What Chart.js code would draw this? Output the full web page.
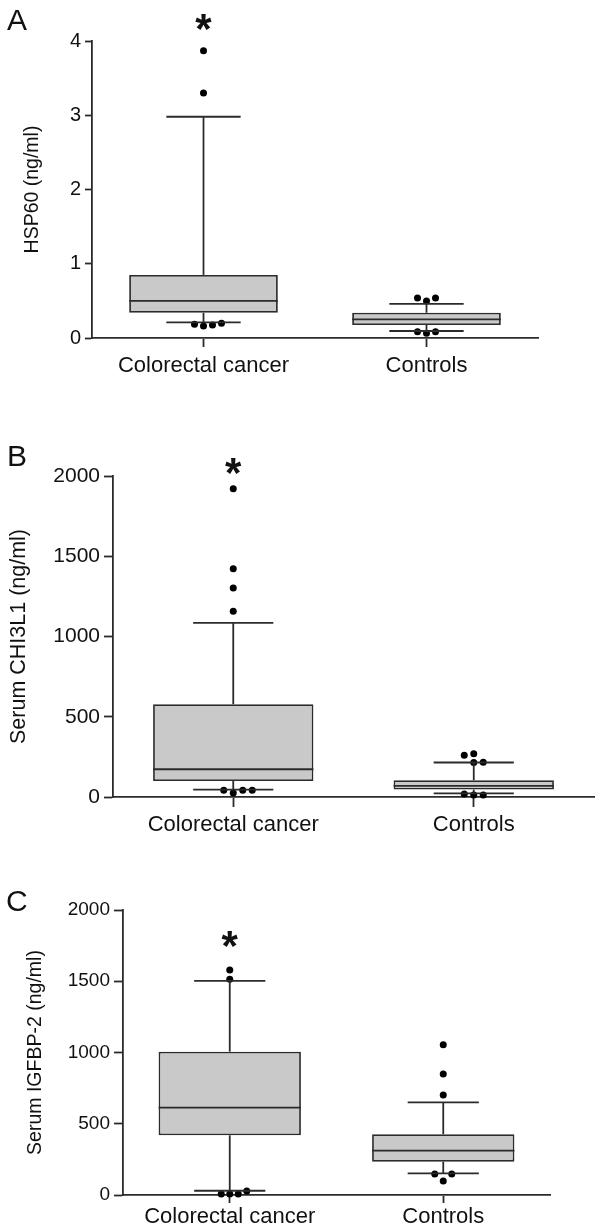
<!DOCTYPE html>
<html>
<head>
<meta charset="utf-8">
<title>HSP60, CHI3L1 and IGFBP-2 in colorectal cancer and controls</title>
<script src="https://cdn.jsdelivr.net/npm/chart.js@4.4.1/dist/chart.umd.min.js"></script>
<style>
  html, body { margin: 0; padding: 0; background: #fff; }
  body { position: relative; width: 602px; height: 1232px; overflow: hidden; font-family: "Liberation Sans", Arial, sans-serif; }
  .panel { position: absolute; left: 0; width: 602px; }
  .letter { position: absolute; font-size: 30px; line-height: 1; color: #111; }
</style>
</head>
<body>
  <div class="panel" style="top:0; height:390px;"><canvas id="chartA"></canvas></div>
  <div class="panel" style="top:390px; height:450px;"><canvas id="chartB"></canvas></div>
  <div class="panel" style="top:840px; height:392px;"><canvas id="chartC"></canvas></div>
  <div class="letter" style="left:7px; top:5px;">A</div>
  <div class="letter" style="left:7px; top:441px;">B</div>
  <div class="letter" style="left:6px; top:886px;">C</div>

<script>
const categories = ['Colorectal cancer', 'Controls'];

// A: HSP60 (ng/ml)
const hspTicks = [0, 1, 2, 3, 4];
const hspLow = [0.21, 0.094];
const hspQ1 = [0.34, 0.175];
const hspMedian = [0.50, 0.25];
const hspQ3 = [0.85, 0.34];
const hspHigh = [2.98, 0.46];
const hspDots = [
  [3.87, 3.30, 0.20, 0.185, 0.175, 0.16],
  [0.54, 0.54, 0.50, 0.085, 0.085, 0.063]
];
const hspStar = [4.28, null];

// B: serum CHI3L1 (ng/ml)
const chiTicks = [0, 500, 1000, 1500, 2000];
const chiLow = [46, 23];
const chiQ1 = [100, 46];
const chiMedian = [173, 69];
const chiQ3 = [578, 104];
const chiHigh = [1085, 215];
const chiDots = [
  [1920, 1422, 1302, 1157, 42, 42, 42, 25],
  [270, 260, 216, 215, 19, 12, 12]
];
const chiStar = [2074, null];

// C: serum IGFBP-2 (ng/ml)
const igfTicks = [0, 500, 1000, 1500, 2000];
const igfLow = [30, 152];
const igfQ1 = [419, 234];
const igfMedian = [613, 311];
const igfQ3 = [1006, 426];
const igfHigh = [1502, 650];
const igfDots = [
  [1579, 1514, 28, 7, 7, 7],
  [1055, 849, 702, 147, 147, 98]
];
const igfStar = [1814, null];

const FONT = '"Liberation Sans", Arial, sans-serif';
const INK = '#111';
const LINE = '#2b2b2b';
const LW = 1.8;

function boxPlugin(p) {
  return {
    id: 'boxWhiskers',
    afterDatasetsUpdate(chart) {
      // push touching dots sideways, like the original figure
      const meta = chart.getDatasetMeta(1);
      const data = chart.data.datasets[1].data;
      const order = data.map((d, i) => i).sort((a, b) => data[a].y - data[b].y);
      const done = [];
      order.forEach(i => {
        const el = meta.data[i];
        const cx = el.x;
        for (const slot of [0, 1, -1, 2, -2, 3, -3]) {
          const nx = cx + slot * p.dotStep;
          const clash = done.some(d => Math.hypot(d.x - nx, d.y - el.y) < 7.5);
          if (!clash) { el.x = nx; break; }
        }
        done.push({ x: el.x, y: el.y });
      });
    },
    afterDatasetDraw(chart, args) {
      if (args.index !== 0) return;
      const ctx = chart.ctx;
      const y = chart.scales.y;
      const bars = chart.getDatasetMeta(0).data;
      const seg = (x1, y1, x2, y2) => {
        ctx.beginPath();
        ctx.moveTo(x1, y1);
        ctx.lineTo(x2, y2);
        ctx.stroke();
      };
      ctx.save();
      ctx.strokeStyle = LINE;
      ctx.lineWidth = LW;
      bars.forEach((bar, i) => {
        const cx = bar.x;
        const half = bar.width / 2;
        const cap = half / 2;
        const yMed = y.getPixelForValue(p.median[i]);
        const yQ1 = y.getPixelForValue(p.q1[i]);
        const yQ3 = y.getPixelForValue(p.q3[i]);
        const yLow = y.getPixelForValue(p.low[i]);
        const yHigh = y.getPixelForValue(p.high[i]);
        seg(cx - half, yMed, cx + half, yMed);
        seg(cx, yQ3, cx, yHigh);
        seg(cx, yQ1, cx, yLow);
        seg(cx - cap, yHigh, cx + cap, yHigh);
        seg(cx - cap, yLow, cx + cap, yLow);
      });
      ctx.restore();
    },
    afterDraw(chart) {
      const ctx = chart.ctx;
      const { x, y } = chart.scales;
      ctx.save();
      ctx.fillStyle = INK;
      ctx.font = 'bold 42px ' + FONT;
      ctx.textAlign = 'center';
      ctx.textBaseline = 'alphabetic';
      p.star.forEach((v, i) => {
        if (v == null) return;
        ctx.fillText('*', x.getPixelForValue(i), y.getPixelForValue(v) + 23);
      });
      ctx.restore();
    }
  };
}

function makePanel(id, p) {
  const boxes = p.q1.map((q, i) => [q, p.q3[i]]);
  const dots = [];
  p.dots.forEach((list, c) => list.forEach(v => dots.push({ x: categories[c], y: v })));

  return new Chart(document.getElementById(id), {
    type: 'bar',
    data: {
      labels: categories,
      datasets: [
        {
          data: boxes,
          backgroundColor: '#c9c9c9',
          borderColor: LINE,
          borderWidth: LW,
          borderSkipped: false,
          barPercentage: 2 / 3,
          categoryPercentage: 1
        },
        {
          type: 'scatter',
          data: dots,
          pointRadius: 3.5,
          pointBackgroundColor: '#000',
          pointBorderWidth: 0,
          clip: false
        }
      ]
    },
    options: {
      responsive: true,
      maintainAspectRatio: false,
      animation: false,
      events: [],
      layout: { padding: p.padding },
      plugins: { legend: { display: false }, tooltip: { enabled: false } },
      scales: {
        x: {
          type: 'category',
          offset: true,
          grid: { offset: false, drawOnChartArea: false, tickLength: p.xTickLen, color: LINE, tickWidth: LW },
          border: { color: LINE, width: LW },
          ticks: { color: INK, font: { family: FONT, size: 22 }, padding: p.xPad, maxRotation: 0, autoSkip: false },
          afterFit: s => { s.height = p.xHeight; }
        },
        y: {
          min: 0,
          max: p.ticks[p.ticks.length - 1],
          afterBuildTicks: s => { s.ticks = p.ticks.map(v => ({ value: v })); },
          grid: { drawOnChartArea: false, tickLength: p.yTickLen, color: LINE, tickWidth: LW },
          border: { color: LINE, width: LW },
          ticks: { color: INK, font: { family: FONT, size: p.tickSize }, padding: 4, callback: v => String(v) },
          title: {
            display: true,
            text: p.title,
            color: INK,
            font: { family: FONT, size: p.titleSize, lineHeight: 1 },
            padding: { top: p.titlePad, bottom: 0 }
          },
          afterFit: s => { s.width = p.yWidth; }
        }
      }
    },
    plugins: [boxPlugin(p)]
  });
}

document.addEventListener('DOMContentLoaded', function() {
  makePanel('chartA', {
    title: 'HSP60 (ng/ml)', ticks: hspTicks,
    low: hspLow, q1: hspQ1, median: hspMedian, q3: hspQ3, high: hspHigh, dots: hspDots, star: hspStar,
    padding: { top: 41, right: 64, bottom: 0, left: 0 },
    yWidth: 92, xHeight: 52, yTickLen: 7, xTickLen: 9, xPad: 6,
    tickSize: 20, titleSize: 19.5, titlePad: 23, dotStep: 9
  });

  makePanel('chartB', {
    title: 'Serum CHI3L1 (ng/ml)', ticks: chiTicks,
    low: chiLow, q1: chiQ1, median: chiMedian, q3: chiQ3, high: chiHigh, dots: chiDots, star: chiStar,
    padding: { top: 86, right: 8, bottom: 0, left: 0 },
    yWidth: 113, xHeight: 43, yTickLen: 9, xTickLen: 10, xPad: 5,
    tickSize: 21, titleSize: 21.5, titlePad: 8, dotStep: 9.5
  });

  makePanel('chartC', {
    title: 'Serum IGFBP-2 (ng/ml)', ticks: igfTicks,
    low: igfLow, q1: igfQ1, median: igfMedian, q3: igfQ3, high: igfHigh, dots: igfDots, star: igfStar,
    padding: { top: 70, right: 52, bottom: 0, left: 0 },
    yWidth: 123, xHeight: 37, yTickLen: 9, xTickLen: 8, xPad: 1,
    tickSize: 19, titleSize: 19.5, titlePad: 26, dotStep: 8.5
  });
});
</script>
</body>
</html>
